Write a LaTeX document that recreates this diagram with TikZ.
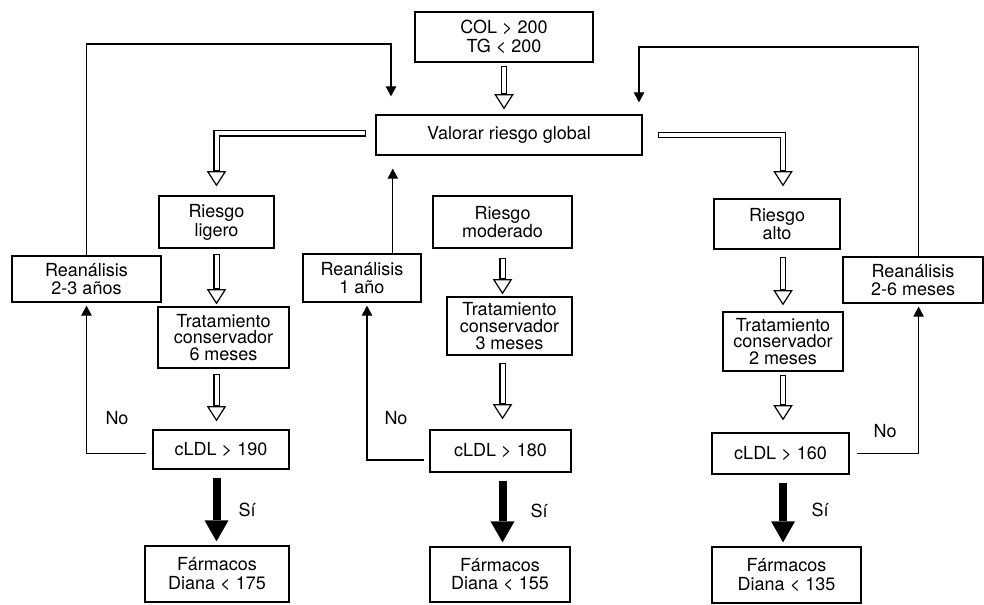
\documentclass[tikz,border=0pt]{standalone}
\usepackage{fontspec}
\setmainfont{TeX Gyre Heros}
\usetikzlibrary{arrows.meta,calc}

\tikzset{
  box/.style={draw, line width=0.9pt, inner sep=0pt, align=center, font=\fontsize{12.8}{13.4}\selectfont},
  lbl/.style={font=\fontsize{12.8}{13.4}\selectfont},
  hollowarrow/.style 2 args={line width=0.16cm, shorten <=#1, shorten >=#2,
    -{Triangle[width=0.48cm, length=0.38cm, line width=0.85pt, fill=white]},
    postaction={draw=white, line width=0.1cm, arrows=-, shorten <=#1+0.03cm, shorten >=#2+0.4cm}},
  bigarrow/.style={line width=0.2cm, shorten <=0.2cm, shorten >=0.1cm,
    -{Triangle[width=0.6cm, length=0.525cm, line width=0pt]}},
  thinarrow/.style={line width=0.85pt, -{Triangle[width=0.26cm, length=0.25cm]}}
}

\begin{document}
\begin{tikzpicture}
\useasboundingbox (0,0) rectangle (24.6,-15.1);

% boxes
\node[box, minimum width=4.45cm, minimum height=1.25cm] (col) at (12.6,-0.925) {COL > 200\\TG < 200};
\node[box, minimum width=6.65cm, minimum height=1.0cm] (valorar) at (12.725,-3.375) {Valorar riesgo global};
\node[box, minimum width=2.875cm, minimum height=1.3cm] (ligero) at (5.4125,-5.55) {Riesgo\\ligero};
\node[box, minimum width=3.475cm, minimum height=1.3cm] (moderado) at (12.5625,-5.55) {Riesgo\\moderado};
\node[box, minimum width=3.15cm, minimum height=1.25cm] (alto) at (19.425,-5.6) {Riesgo\\alto};
\node[box, minimum width=3.725cm, minimum height=1.15cm] (reanA) at (2.1625,-6.975) {Reanálisis\\2-3 años};
\node[box, minimum width=2.95cm, minimum height=1.2cm] (reanB) at (9.05,-6.95) {Reanálisis\\1 año};
\node[box, minimum width=3.5cm, minimum height=1.15cm] (reanC) at (22.825,-7.0) {Reanálisis\\2-6 meses};
\node[box, minimum width=3.275cm, minimum height=1.525cm, font=\fontsize{12.8}{11.8}\selectfont] (tratA) at (5.5875,-8.4375) {Tratamiento\\conservador\\6 meses};
\node[box, minimum width=3.125cm, minimum height=1.45cm, font=\fontsize{12.8}{11.8}\selectfont] (tratB) at (12.7375,-8.15) {Tratamiento\\conservador\\3 meses};
\node[box, minimum width=3.0cm, minimum height=1.475cm, font=\fontsize{12.8}{11.8}\selectfont] (tratC) at (19.575,-8.5375) {Tratamiento\\conservador\\2 meses};
\node[box, minimum width=3.4cm, minimum height=0.975cm] (ldlA) at (5.525,-11.2375) {cLDL > 190};
\node[box, minimum width=3.525cm, minimum height=1.05cm] (ldlB) at (12.5125,-11.275) {cLDL > 180};
\node[box, minimum width=3.425cm, minimum height=1.025cm] (ldlC) at (19.5125,-11.3375) {cLDL > 160};
\node[box, minimum width=3.6cm, minimum height=1.4cm] (farmA) at (5.425,-14.35) {Fármacos\\Diana < 175};
\node[box, minimum width=3.5cm, minimum height=1.375cm] (farmB) at (12.5,-14.3625) {Fármacos\\Diana < 155};
\node[box, minimum width=3.725cm, minimum height=1.4cm] (farmC) at (19.6625,-14.375) {Fármacos\\Diana < 135};

% hollow arrows
\draw[hollowarrow={0.075cm}{0.125cm}] (col.south) -- (col.south |- valorar.north);
\draw[hollowarrow={0.225cm}{0.225cm}] ($(valorar.west)+(0,0.04)$) -| (ligero.north);
\draw[hollowarrow={0.375cm}{0.3cm}] (valorar.east) -| (tratC.north |- alto.north);
\draw[hollowarrow={0.125cm}{0.05cm}] (ligero.south) -- (ligero.south |- tratA.north);
\draw[hollowarrow={0.125cm}{0.2cm}] (ligero.south |- tratA.south) -- (ligero.south |- ldlA.north);
\draw[hollowarrow={0.225cm}{0.05cm}] (moderado.south) -- (moderado.south |- tratB.north);
\draw[hollowarrow={0.175cm}{0.25cm}] (moderado.south |- tratB.south) -- (moderado.south |- ldlB.north);
\draw[hollowarrow={0.175cm}{0.15cm}] (tratC.north |- alto.south) -- (tratC.north);
\draw[hollowarrow={0.075cm}{0.3cm}] (tratC.south) -- (tratC.south |- ldlC.north);

% Si arrows
\draw[bigarrow] (ligero.south |- ldlA.south) -- (ligero.south |- farmA.north);
\draw[bigarrow] (moderado.south |- ldlB.south) -- (moderado.south |- farmB.north);
\draw[bigarrow] (tratC.south |- ldlC.south) -- (tratC.south |- farmC.north);
\node[lbl] (siA) at (6.175,-12.75) {Sí};
\node[lbl] (siB) at (13.475,-12.775) {Sí};
\node[lbl] (siC) at (20.5,-12.75) {Sí};

% No arrows
\draw[thinarrow, shorten <=0.15cm, shorten >=0.075cm] ($(ldlA.west)+(0,-0.09)$) -| (reanA.south);
\draw[thinarrow, shorten <=0.125cm, shorten >=0.075cm] ($(ldlB.west)+(0,-0.225)$) -| ($(reanB.south)+(0.125,0)$);
\draw[thinarrow, shorten <=0.175cm, shorten >=0.075cm] (ldlC.east) -| ($(reanC.south)+(0.14,0)$);
\node[lbl] (noA) at (2.925,-10.45) {No};
\node[lbl] (noB) at (9.9,-10.45) {No};
\node[lbl] (noC) at (22.125,-10.775) {No};

% back to Valorar
\coordinate (cornerL) at (9.775,-1.1);
\coordinate (cornerR) at (15.975,-1.175);
\draw[thinarrow, shorten >=0.45cm] (reanA.north) |- (cornerL) -- (cornerL |- valorar.north);
\draw[thinarrow, shorten >=0.3cm] ($(reanC.north)+(0.14,0)$) |- (cornerR) -- (cornerR |- valorar.north);
\draw[thinarrow, shorten >=0.325cm] ($(reanB.north)+(0.77,0)$) coordinate (upB) -- (upB |- valorar.south);
\end{tikzpicture}
\end{document}
